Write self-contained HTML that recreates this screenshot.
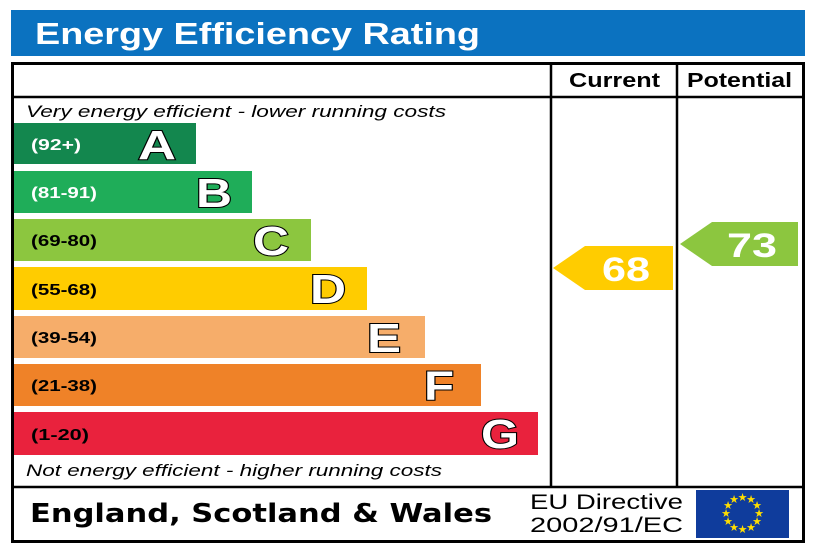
<!DOCTYPE html>
<html><head><meta charset="utf-8"><style>
html,body{margin:0;padding:0;background:#fff;}
svg{display:block;font-family:"Liberation Sans",sans-serif;}
.r{font-weight:bold;font-size:16px;}
.L{font-weight:bold;font-size:41px;fill:#fff;stroke:#000;stroke-width:2;paint-order:stroke;}
</style></head><body>
<svg width="820" height="547" viewBox="0 0 820 547" xmlns="http://www.w3.org/2000/svg">
<rect x="11" y="10" width="794" height="46" fill="#0b72c0"/>
<text x="35" y="44" font-size="31" font-weight="bold" fill="#fff" textLength="445" lengthAdjust="spacingAndGlyphs">Energy Efficiency Rating</text>
<rect x="12.5" y="63.5" width="791" height="478" fill="#fff" stroke="#000" stroke-width="3"/>
<line x1="12" y1="97" x2="804" y2="97" stroke="#000" stroke-width="2.5"/>
<line x1="12" y1="487" x2="804" y2="487" stroke="#000" stroke-width="2.5"/>
<line x1="551" y1="63" x2="551" y2="487" stroke="#000" stroke-width="2.5"/>
<line x1="677" y1="63" x2="677" y2="487" stroke="#000" stroke-width="2.5"/>
<text x="569" y="87" font-size="20" font-weight="bold" textLength="91" lengthAdjust="spacingAndGlyphs">Current</text>
<text x="687" y="87" font-size="20" font-weight="bold" textLength="105" lengthAdjust="spacingAndGlyphs">Potential</text>
<text x="26" y="117" font-size="17" font-style="italic" textLength="420" lengthAdjust="spacingAndGlyphs">Very energy efficient - lower running costs</text>
<text x="26" y="476" font-size="17" font-style="italic" textLength="416" lengthAdjust="spacingAndGlyphs">Not energy efficient - higher running costs</text>

<rect x="14" y="123" width="182" height="41" fill="#13874e"/>
<text x="31" y="150" class="r" fill="#fff" textLength="50" lengthAdjust="spacingAndGlyphs">(92+)</text>
<text x="138" y="159" class="L" textLength="38" lengthAdjust="spacingAndGlyphs">A</text>

<rect x="14" y="171" width="238" height="42" fill="#1fad59"/>
<text x="31" y="198" class="r" fill="#fff" textLength="66" lengthAdjust="spacingAndGlyphs">(81-91)</text>
<text x="196" y="207" class="L" textLength="36" lengthAdjust="spacingAndGlyphs">B</text>

<rect x="14" y="219" width="297" height="42" fill="#8cc63f"/>
<text x="31" y="246" class="r" textLength="66" lengthAdjust="spacingAndGlyphs">(69-80)</text>
<text x="253" y="255" class="L" textLength="36" lengthAdjust="spacingAndGlyphs">C</text>

<rect x="14" y="267" width="353" height="43" fill="#ffcc00"/>
<text x="31" y="295" class="r" textLength="66" lengthAdjust="spacingAndGlyphs">(55-68)</text>
<text x="310" y="303" class="L" textLength="36" lengthAdjust="spacingAndGlyphs">D</text>

<rect x="14" y="316" width="411" height="42" fill="#f6ad6a"/>
<text x="31" y="343" class="r" textLength="66" lengthAdjust="spacingAndGlyphs">(39-54)</text>
<text x="367" y="352" class="L" textLength="34" lengthAdjust="spacingAndGlyphs">E</text>

<rect x="14" y="364" width="467" height="42" fill="#ef8228"/>
<text x="31" y="391" class="r" textLength="66" lengthAdjust="spacingAndGlyphs">(21-38)</text>
<text x="424" y="400" class="L" textLength="30" lengthAdjust="spacingAndGlyphs">F</text>

<rect x="14" y="412" width="524" height="43" fill="#e9223d"/>
<text x="31" y="440" class="r" textLength="58" lengthAdjust="spacingAndGlyphs">(1-20)</text>
<text x="481" y="448" class="L" textLength="38" lengthAdjust="spacingAndGlyphs">G</text>

<polygon points="553,268 585,246 673,246 673,290 585,290" fill="#ffcc00"/>
<text x="602" y="281" font-size="34" font-weight="bold" fill="#fff" textLength="48" lengthAdjust="spacingAndGlyphs">68</text>
<polygon points="680,244 712,222 798,222 798,266 712,266" fill="#8cc63f"/>
<text x="727" y="257" font-size="34" font-weight="bold" fill="#fff" textLength="50" lengthAdjust="spacingAndGlyphs">73</text>

<text x="30" y="522" font-size="26" font-weight="bold" font-family="DejaVu Sans,sans-serif" textLength="462" lengthAdjust="spacingAndGlyphs">England, Scotland &amp; Wales</text>
<text x="530" y="509" font-size="21" textLength="153" lengthAdjust="spacingAndGlyphs">EU Directive</text>
<text x="530" y="532" font-size="21" textLength="153" lengthAdjust="spacingAndGlyphs">2002/91/EC</text>
<rect x="696" y="490" width="93" height="48" fill="#0f3c9c"/>
<g fill="#ffde00" font-size="11" text-anchor="middle">
<text x="742.5" y="501">★</text><text x="751" y="503">★</text><text x="757" y="509">★</text>
<text x="759" y="517">★</text><text x="757" y="525">★</text><text x="751" y="531">★</text>
<text x="742.5" y="533">★</text><text x="734" y="531">★</text><text x="728" y="525">★</text>
<text x="726" y="517">★</text><text x="728" y="509">★</text><text x="734" y="503">★</text>
</g>
</svg>
</body></html>
